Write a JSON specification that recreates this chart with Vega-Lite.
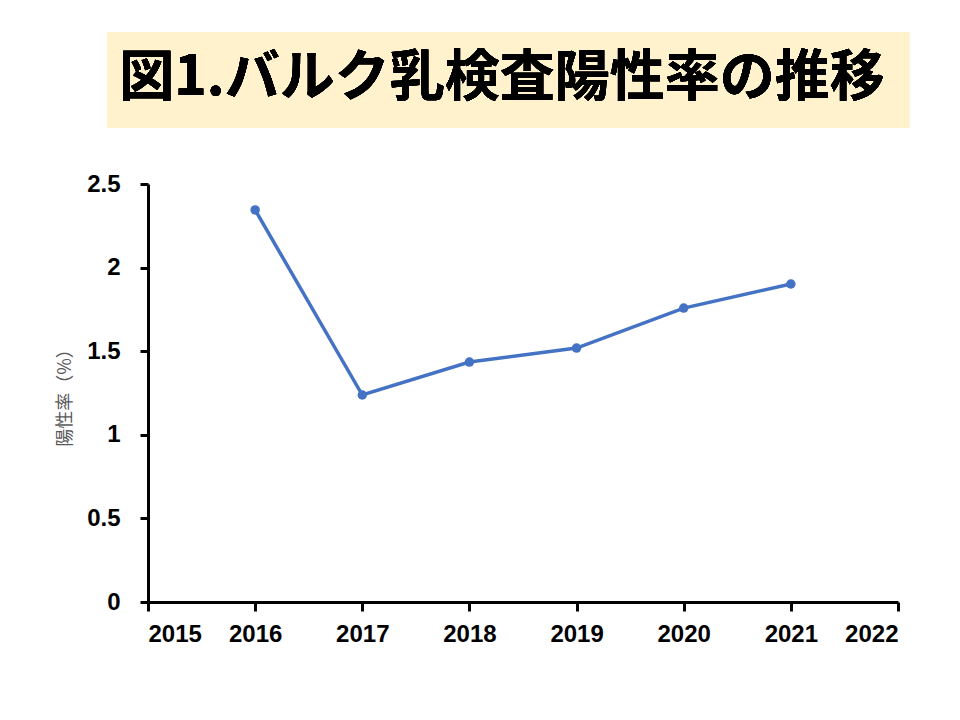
{
  "$schema": "https://vega.github.io/schema/vega-lite/v6.json",
  "width": 750,
  "height": 418,
  "autosize": {"type": "none"},
  "padding": {"left": 148, "top": 184, "right": 62, "bottom": 118},
  "background": "white",
  "config": {"view": {"stroke": null}},
  "data": {"values": [
    {"year": 2016, "rate": 2.345},
    {"year": 2017, "rate": 1.238},
    {"year": 2018, "rate": 1.435},
    {"year": 2019, "rate": 1.519},
    {"year": 2020, "rate": 1.758},
    {"year": 2021, "rate": 1.902}
  ]},
  "layer": [
    {
      "mark": {"type": "rect", "color": "#FFF2CC"},
      "encoding": {
        "x": {"datum": 2014.617, "type": "quantitative"},
        "x2": {"datum": 2022.112},
        "y": {"datum": 3.409, "type": "quantitative"},
        "y2": {"datum": 2.835}
      }
    },
    {
      "mark": {"type": "text", "text": "図1.バルク乳検査陽性率の推移", "font": "Noto Sans CJK JP", "fontWeight": "bold", "fontSize": 55, "align": "center", "baseline": "middle", "color": "#000000"},
      "encoding": {
        "x": {"datum": 2018.304, "type": "quantitative"},
        "y": {"datum": 3.134, "type": "quantitative"}
      }
    },
    {
      "mark": {"type": "line", "color": "#4472C4", "strokeWidth": 3.5, "point": {"filled": true, "size": 90, "color": "#4472C4"}},
      "encoding": {
        "x": {
          "field": "year", "type": "quantitative",
          "scale": {"domain": [2015, 2022], "nice": false, "zero": false},
          "axis": {
            "title": null, "values": [2015, 2016, 2017, 2018, 2019, 2020, 2021, 2022], "format": "d",
            "grid": false, "domainColor": "#000000", "domainWidth": 3, "tickColor": "#000000", "tickWidth": 3, "tickSize": 9,
            "labelFont": "Liberation Sans", "labelFontWeight": "bold", "labelFontSize": 24, "labelColor": "#000000", "labelPadding": 11
          }
        },
        "y": {
          "field": "rate", "type": "quantitative",
          "scale": {"domain": [0, 2.5], "nice": false},
          "axis": {
            "title": "陽性率（%）", "values": [0, 0.5, 1, 1.5, 2, 2.5], "format": "~g",
            "grid": false, "domainColor": "#000000", "domainWidth": 3, "tickColor": "#000000", "tickWidth": 3, "tickSize": 8,
            "labelFont": "Liberation Sans", "labelFontWeight": "bold", "labelFontSize": 24, "labelColor": "#000000", "labelPadding": 20,
            "titleFont": "Noto Sans CJK JP", "titleFontWeight": "normal", "titleFontSize": 18, "titleColor": "#595959", "titlePadding": 12
          }
        }
      }
    }
  ]
}
